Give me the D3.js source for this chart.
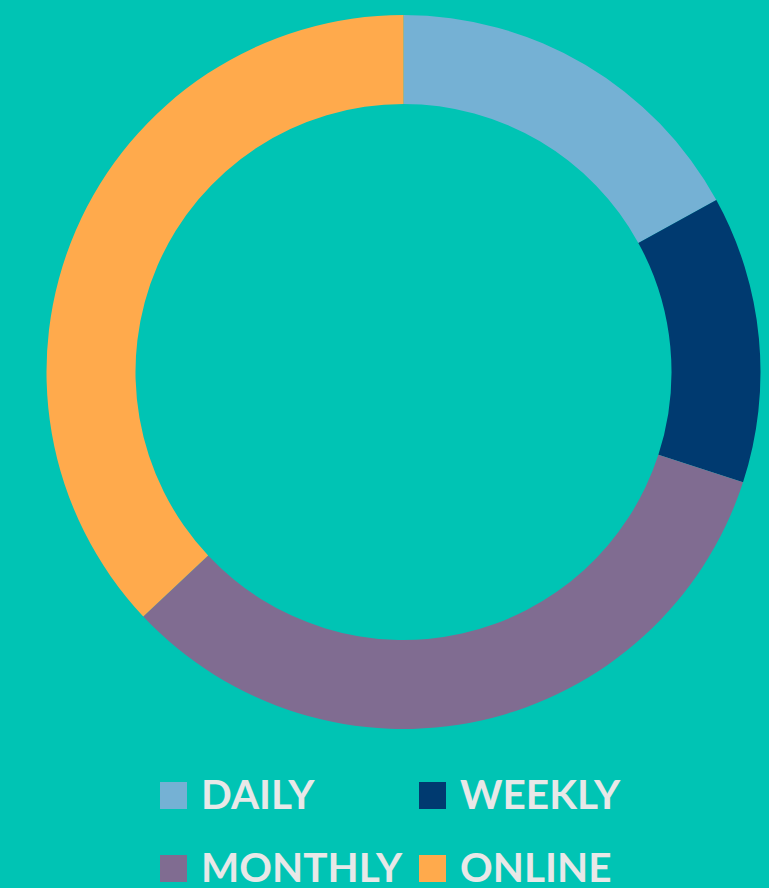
<!DOCTYPE html>
<html>
<head>
<meta charset="utf-8">
<script src="https://cdn.jsdelivr.net/npm/d3@7"></script>
<style>
  body { margin: 0; background: #00C4B4; }
  svg { display: block; }
</style>
</head>
<body>
<div id="donut"></div>
<script>
    // Chart data
    const categories = ['DAILY', 'WEEKLY', 'MONTHLY', 'ONLINE'];
    const shares = [17, 13, 33, 37];
    const colors = ['#75B1D4', '#003A70', '#806C91', '#FFAA4C'];

    const width = 769;
    const height = 888;
    const cx = 403.5, cy = 372;
    const outerR = 357, innerR = 268;

    // Create svg element
    const svg = d3.select('#donut')
      .append('svg')
      .attr('width', width)
      .attr('height', height);

    const color = d3.scaleOrdinal()
      .domain(categories)
      .range(colors);

    const pie = d3.pie()
      .sort(null)
      .value((d, i) => shares[i]);

    const arc = d3.arc()
      .innerRadius(innerR)
      .outerRadius(outerR);

    const g = svg.append('g')
      .attr('transform', `translate(${cx},${cy})`);

    g.selectAll('path')
      .data(pie(categories))
      .join('path')
      .attr('fill', d => color(d.data))
      .attr('d', arc);

    // Legend, two columns
    const legend = svg.selectAll('.legend')
      .data(categories)
      .join('g')
      .attr('class', 'legend')
      .attr('transform', (d, i) => `translate(${160 + (i % 2) * 259},${782 + Math.floor(i / 2) * 73})`);

    legend.append('rect')
      .attr('width', 27)
      .attr('height', 27)
      .attr('fill', color);

    legend.append('text')
      .attr('x', 41)
      .attr('y', 27)
      .text(d => d)
      .style('font-family', 'Lato, "Open Sans", sans-serif')
      .style('font-weight', 'bold')
      .style('font-size', '40.5px')
      .style('fill', '#E8E8E8');
</script>
</body>
</html>
